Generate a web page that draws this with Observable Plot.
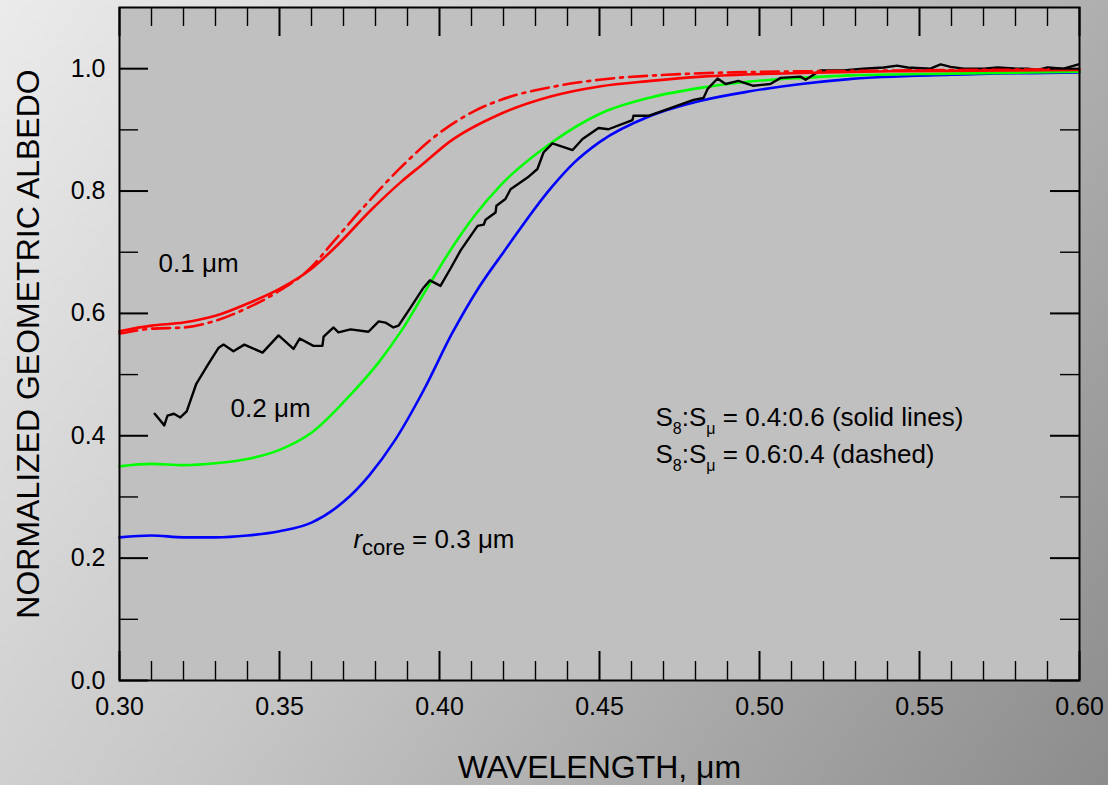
<!DOCTYPE html>
<html><head><meta charset="utf-8">
<script src="https://cdn.jsdelivr.net/npm/d3@7"></script>
<script src="https://cdn.jsdelivr.net/npm/@observablehq/plot@0.6"></script>
<style>
html,body{margin:0;padding:0;}
body{width:1108px;height:785px;overflow:hidden;background:linear-gradient(125deg,#ebebeb 0%,#c6c6c6 45%,#8c8c8c 100%);}
#chart svg{display:block;}
</style></head><body><div id="chart"></div>
<script>
// wavelength (µm), normalized geometric albedo
const red01Solid = [[0.300,0.571],[0.310,0.580],[0.320,0.585],[0.330,0.596],[0.340,0.616],[0.350,0.640],[0.360,0.673],[0.367,0.706],[0.379,0.771],[0.388,0.815],[0.395,0.845],[0.403,0.880],[0.419,0.926],[0.435,0.955],[0.450,0.971],[0.466,0.980],[0.482,0.987],[0.513,0.993],[0.544,0.996],[0.600,0.998]];
const red01Dashed = [[0.300,0.567],[0.310,0.575],[0.320,0.577],[0.330,0.588],[0.340,0.609],[0.350,0.637],[0.360,0.676],[0.366,0.712],[0.377,0.778],[0.388,0.839],[0.399,0.891],[0.411,0.931],[0.422,0.954],[0.435,0.970],[0.450,0.982],[0.471,0.990],[0.492,0.994],[0.544,0.997],[0.600,0.999]];
const green02 = [[0.300,0.350],[0.310,0.354],[0.320,0.352],[0.330,0.355],[0.340,0.362],[0.350,0.377],[0.360,0.405],[0.372,0.466],[0.381,0.520],[0.388,0.571],[0.396,0.640],[0.403,0.700],[0.411,0.760],[0.419,0.809],[0.435,0.879],[0.450,0.926],[0.466,0.953],[0.482,0.969],[0.497,0.979],[0.513,0.985],[0.528,0.989],[0.560,0.992],[0.600,0.995]];
const blue03 = [[0.300,0.234],[0.310,0.237],[0.320,0.234],[0.330,0.234],[0.340,0.237],[0.350,0.244],[0.360,0.258],[0.370,0.292],[0.378,0.335],[0.386,0.392],[0.395,0.474],[0.404,0.568],[0.412,0.640],[0.420,0.700],[0.435,0.806],[0.442,0.846],[0.450,0.880],[0.466,0.923],[0.482,0.948],[0.497,0.963],[0.513,0.975],[0.528,0.983],[0.560,0.990],[0.600,0.994]];
const observed = [[0.311,0.436],[0.314,0.417],[0.315,0.433],[0.317,0.436],[0.319,0.430],[0.321,0.440],[0.324,0.485],[0.3275,0.515],[0.331,0.544],[0.3325,0.549],[0.3356,0.538],[0.339,0.549],[0.3447,0.536],[0.3497,0.564],[0.3544,0.542],[0.3563,0.559],[0.3606,0.547],[0.3634,0.547],[0.3638,0.562],[0.3669,0.577],[0.3684,0.569],[0.3722,0.574],[0.3778,0.570],[0.381,0.587],[0.3831,0.585],[0.3856,0.577],[0.3872,0.580],[0.391,0.610],[0.395,0.642],[0.397,0.654],[0.4003,0.645],[0.4034,0.673],[0.4066,0.703],[0.4119,0.743],[0.4138,0.745],[0.4144,0.753],[0.4175,0.765],[0.4178,0.776],[0.4206,0.787],[0.4222,0.803],[0.4275,0.822],[0.4306,0.836],[0.4325,0.863],[0.4353,0.878],[0.4416,0.867],[0.4447,0.885],[0.4497,0.903],[0.4528,0.901],[0.4603,0.916],[0.4606,0.923],[0.4653,0.923],[0.4713,0.934],[0.4794,0.949],[0.4825,0.952],[0.4838,0.967],[0.4869,0.984],[0.4894,0.975],[0.4934,0.980],[0.4981,0.972],[0.5034,0.975],[0.5066,0.985],[0.5128,0.987],[0.5144,0.982],[0.519,0.997],[0.526,0.997],[0.5325,1.000],[0.5388,1.002],[0.543,1.005],[0.5463,1.002],[0.5534,1.000],[0.5566,1.007],[0.5597,1.003],[0.5638,1.000],[0.570,1.000],[0.5744,1.002],[0.5806,1.000],[0.5838,1.000],[0.5869,0.998],[0.590,1.002],[0.595,1.000],[0.5997,1.007]];

const xTickLabels = [0.30,0.35,0.40,0.45,0.50,0.55,0.60];
const xMinorTicks = [0.31,0.32,0.33,0.34,0.36,0.37,0.38,0.39,0.41,0.42,0.43,0.44,0.46,0.47,0.48,0.49,0.51,0.52,0.53,0.54,0.56,0.57,0.58,0.59];
const yTickLabels = [0.0,0.2,0.4,0.6,0.8,1.0];
const yMinorTicks = [0.1,0.3,0.5,0.7,0.9];

const xTitle = "WAVELENGTH, μm";
const yTitle = "NORMALIZED GEOMETRIC ALBEDO";
const plainNotes = [{wl:0.3122, alb:0.667, text:"0.1 μm"},{wl:0.3347, alb:0.431, text:"0.2 μm"}];
const richNotes = [
  {wl:0.3731, alb:0.2173, parts:[{t:"r",i:true},{t:"core",sub:"core"},{t:" = 0.3 μm"}]},
  {wl:0.4675, alb:0.4167, parts:[{t:"S"},{t:"8",sub:"s"},{t:":S"},{t:"μ",sub:"s"},{t:" = 0.4:0.6 (solid lines)"}]},
  {wl:0.4675, alb:0.3562, parts:[{t:"S"},{t:"8",sub:"s"},{t:":S"},{t:"μ",sub:"s"},{t:" = 0.6:0.4 (dashed)"}]}
];
const joined = n => n.parts.map(p => p.t).join("");

const W = 960, H = 673;
const px = d => d[0], py = d => d[1];

const plot = Plot.plot({
  width: 1108, height: 785,
  marginTop: 7, marginRight: 29, marginBottom: 105, marginLeft: 119,
  x: {domain: [0.30, 0.60]},
  y: {domain: [0, 1.1]},
  style: {background: "transparent", fontFamily: "'Liberation Sans', Arial, Helvetica, sans-serif", fontSize: "25px", color: "black", overflow: "visible"},
  marks: [
    Plot.frame({fill: "#c0c0c0"}),
    Plot.line(blue03, {x: px, y: py, stroke: "#0000ff", strokeWidth: 2.6, curve: "monotone-x"}),
    Plot.line(green02, {x: px, y: py, stroke: "#00ff00", strokeWidth: 2.6, curve: "monotone-x"}),
    Plot.line(observed, {x: px, y: py, stroke: "black", strokeWidth: 2.4}),
    Plot.line(red01Solid, {x: px, y: py, stroke: "#ff0000", strokeWidth: 2.6, curve: "monotone-x"}),
    Plot.line(red01Dashed, {x: px, y: py, stroke: "#ff0000", strokeWidth: 2.6, curve: "monotone-x", strokeDasharray: "18,6,3,6"}),
    // inward ticks: bottom / top
    Plot.tickX(xTickLabels, {x: d => d, insetTop: H - 29, stroke: "black", strokeWidth: 2}),
    Plot.tickX(xMinorTicks, {x: d => d, insetTop: H - 19, stroke: "black", strokeWidth: 1.4}),
    Plot.tickX(xTickLabels, {x: d => d, insetBottom: H - 29, stroke: "black", strokeWidth: 2}),
    Plot.tickX(xMinorTicks, {x: d => d, insetBottom: H - 19, stroke: "black", strokeWidth: 1.4}),
    // inward ticks: left / right
    Plot.tickY(yTickLabels, {y: d => d, insetRight: W - 29, stroke: "black", strokeWidth: 2}),
    Plot.tickY(yMinorTicks, {y: d => d, insetRight: W - 19, stroke: "black", strokeWidth: 1.4}),
    Plot.tickY(yTickLabels, {y: d => d, insetLeft: W - 29, stroke: "black", strokeWidth: 2}),
    Plot.tickY(yMinorTicks, {y: d => d, insetLeft: W - 19, stroke: "black", strokeWidth: 1.4}),
    Plot.frame({stroke: "black", strokeWidth: 2}),
    Plot.axisX({ticks: xTickLabels, tickSize: 0, tickPadding: 17, tickFormat: d3.format(".2f"), label: null}),
    Plot.axisY({ticks: yTickLabels, tickSize: 0, tickPadding: 14, tickFormat: d3.format(".1f"), label: null}),
    Plot.text([xTitle], {text: d => d, frameAnchor: "bottom", textAnchor: "middle", dy: 97, lineAnchor: "bottom", fontSize: 32}),
    Plot.text([yTitle], {text: d => d, frameAnchor: "left", textAnchor: "middle", dx: -81, rotate: -90, lineAnchor: "bottom", fontSize: 32}),
    Plot.text(plainNotes, {x: "wl", y: "alb", text: "text", textAnchor: "start", lineAnchor: "bottom", fontSize: 26}),
    Plot.text(richNotes, {x: "wl", y: "alb", text: joined, textAnchor: "start", lineAnchor: "bottom", fontSize: 26})
  ]
});

const subStyle = {core: {size: 22, shift: 7}, s: {size: 16, shift: 8}};
d3.select(plot).selectAll("text").each(function() {
  const el = this;
  const note = richNotes.find(n => joined(n) === el.textContent);
  if (!note) return;
  const sel = d3.select(el);
  sel.text(null);
  let shift = 0;
  note.parts.forEach(p => {
    const ts = sel.append("tspan").text(p.t);
    if (p.i) ts.attr("font-style", "italic");
    if (p.sub) {
      const s = subStyle[p.sub];
      ts.attr("font-size", s.size).attr("dy", s.shift - shift);
      shift = s.shift;
    } else if (shift) {
      ts.attr("dy", -shift);
      shift = 0;
    }
  });
});

document.getElementById("chart").appendChild(plot);
</script></body></html>
